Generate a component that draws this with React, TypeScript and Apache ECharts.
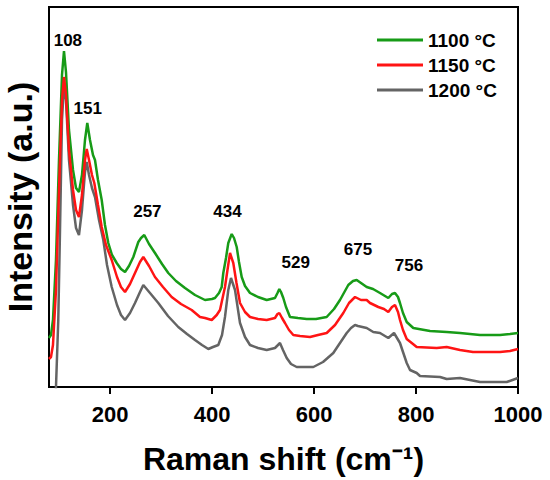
import React, { useEffect, useRef } from "react";
import * as echarts from "echarts";

const FONT = "'Liberation Sans', Arial, Helvetica, sans-serif";

const seriesNames = ["1100 °C", "1150 °C", "1200 °C"];
const seriesColors = ["#179b17", "#ff1414", "#646464"];
const xTicks = [200, 400, 600, 800, 1000];

// Raman shift (cm-1), intensity (a.u.)
const s1100: [number, number][] = [
  [80, 49], [83.9, 52], [87.8, 67], [93.7, 127], [99.6, 227], [105.5, 312], [109.4, 336],
  [113.3, 315], [119.2, 257], [127.1, 217], [133.0, 199], [138.8, 195], [144.7, 212],
  [150.6, 247], [155.1, 264], [160.4, 247], [166.3, 232], [170.2, 227], [176.1, 207],
  [183.4, 187], [189.8, 162], [196.3, 144], [203.6, 132], [212.8, 124], [221.2, 118],
  [229.1, 115], [236.9, 121], [245.4, 130], [255.2, 145], [260.5, 149], [266.9, 152],
  [276.2, 143], [287.9, 134], [301.7, 123], [314.0, 114], [329.1, 106], [346.8, 99],
  [366.4, 92], [386.0, 87], [399.7, 88], [405.6, 89], [413.5, 94], [418.8, 100],
  [421.9, 114], [427.2, 129], [431.7, 144], [438.4, 153], [442.9, 149], [448.2, 140],
  [452.7, 125], [458.0, 110], [464.5, 101], [474.3, 94], [490.0, 90], [507.0, 87],
  [523.3, 89], [528.2, 94], [531.8, 98], [535.1, 95], [539.6, 89], [544.9, 80],
  [552.8, 70], [568.4, 69], [585.5, 68], [603.7, 68], [624.7, 70], [639.1, 78],
  [650.8, 87], [667.1, 102], [676.3, 106], [683.6, 107], [692.0, 104], [703.2, 100],
  [715.6, 98], [729.3, 94], [739.1, 91], [745.6, 89], [752.8, 93], [758.7, 94],
  [764.6, 90], [768.5, 84], [774.4, 74], [781.7, 65], [794.6, 59], [827.4, 56],
  [860.1, 55], [886.2, 54], [925.5, 52], [964.7, 52], [984.3, 53], [1000, 54],
];

const s1150: [number, number][] = [
  [80, 28], [83.9, 30], [87.8, 42], [93.7, 97], [99.6, 197], [105.5, 287], [109.4, 310],
  [113.3, 292], [119.2, 237], [127.1, 197], [133.0, 177], [138.8, 170], [144.7, 192],
  [150.6, 227], [154.0, 238], [158.5, 227], [164.3, 212], [168.9, 204], [176.1, 182],
  [183.4, 160], [191.8, 142], [203.0, 127], [213.4, 110], [221.2, 100], [229.1, 95],
  [238.9, 103], [248.7, 114], [258.5, 125], [265.0, 130], [276.2, 121], [287.9, 110],
  [303.6, 100], [320.6, 90], [338.9, 83], [359.9, 77], [376.2, 70], [386.0, 69],
  [399.2, 67], [409.0, 72], [415.4, 77], [425.2, 100], [430.1, 117], [435.1, 134],
  [441.5, 124], [447.8, 104], [454.7, 84], [464.5, 75], [474.3, 70], [490.0, 68],
  [507.0, 67], [523.3, 69], [528.2, 73], [531.8, 74], [537.1, 69], [542.9, 64],
  [550.8, 57], [559.2, 52], [572.4, 51], [592.0, 50], [607.7, 52], [624.7, 54],
  [641.1, 62], [657.3, 74], [668.5, 84], [680.3, 90], [692.0, 87], [703.2, 87],
  [709.7, 84], [726.0, 80], [737.1, 78], [745.6, 75], [752.8, 80], [758.7, 82],
  [764.6, 75], [768.5, 67], [774.4, 57], [781.7, 48], [794.0, 43], [801.3, 40],
  [840.5, 39], [860.1, 40], [886.2, 37], [911.7, 35], [964.7, 35], [984.3, 36], [1000, 38],
];

const s1200: [number, number][] = [
  [89.8, -43], [93.7, 0], [98.2, 67], [101.6, 157], [105.5, 267], [109.4, 302],
  [113.3, 287], [119.2, 227], [127.1, 182], [133.0, 159], [138.8, 152], [144.7, 177],
  [150.6, 215], [154.0, 225], [158.5, 212], [164.3, 199], [170.2, 190], [178.1, 167],
  [186.5, 147], [193.8, 122], [203.0, 100], [213.4, 82], [221.2, 72], [229.1, 67],
  [238.9, 74], [248.7, 84], [258.5, 95], [265.0, 102], [278.1, 94], [294.4, 84],
  [313.4, 71], [333.6, 60], [350.7, 53], [366.4, 47], [380.1, 42], [392.5, 38],
  [401.7, 40], [412.1, 42], [419.4, 52], [425.2, 70], [431.7, 97], [437.0, 109],
  [444.9, 97], [454.7, 64], [464.5, 50], [474.3, 42], [490.0, 39], [507.0, 37],
  [523.3, 39], [533.1, 44], [539.0, 37], [546.3, 29], [554.7, 23], [565.9, 20],
  [582.2, 20], [598.5, 20], [617.5, 25], [637.7, 34], [650.8, 44], [664.0, 54],
  [672.4, 59], [680.3, 62], [686.1, 61], [703.2, 59], [716.1, 55], [729.3, 54],
  [745.6, 49], [756.8, 54], [768.5, 44], [774.4, 35], [781.7, 24], [788.2, 17],
  [801.3, 14], [807.8, 11], [847.0, 10], [860.1, 8], [886.2, 9], [925.5, 5],
  [977.9, 5], [1000, 9],
];

const peakLabels = ["108", "151", "257", "434", "529", "675", "756"];
const peakLabelX = [117, 156, 273, 430, 564, 686, 786];
const peakLabelY = [347, 279, 176, 176, 125, 138, 122];

export default function App() {
  const ref = useRef<HTMLDivElement>(null);

  useEffect(() => {
    document.body.style.margin = "0";
    if (!ref.current) return;
    const chart = echarts.init(ref.current, undefined, { renderer: "svg" });

    const lineSeries = (idx: number, data: [number, number][], z: number) => ({
      type: "line",
      name: seriesNames[idx],
      data,
      showSymbol: false,
      symbol: "none",
      clip: true,
      z,
      lineStyle: { color: seriesColors[idx], width: 2.5 },
      itemStyle: { color: seriesColors[idx] },
    });

    chart.setOption({
      animation: false,
      backgroundColor: "#ffffff",
      textStyle: { fontFamily: FONT },
      grid: {
        left: 49,
        right: 32,
        top: 7,
        bottom: 93,
        outerBoundsMode: "none",
        containLabel: false,
        show: true,
        borderColor: "#000",
        borderWidth: 2,
        backgroundColor: "transparent",
      },
      legend: {
        data: seriesNames,
        orient: "vertical",
        left: 372,
        top: 25,
        icon: "rect",
        itemWidth: 46,
        itemHeight: 3,
        itemGap: 5,
        textStyle: {
          fontFamily: FONT,
          fontSize: 19,
          fontWeight: "bold",
          color: "#000",
          lineHeight: 20,
        },
      },
      xAxis: {
        type: "value",
        min: 80,
        max: 1000,
        name: "Raman shift (cm⁻¹)",
        nameLocation: "middle",
        nameGap: 56,
        nameTextStyle: { fontFamily: FONT, fontSize: 32, fontWeight: "bold", color: "#000" },
        axisLine: { show: true, lineStyle: { color: "#000", width: 2 } },
        axisTick: { show: true, customValues: xTicks, length: 7, lineStyle: { color: "#000", width: 2 } },
        axisLabel: {
          customValues: xTicks,
          formatter: (v: number) => String(v),
          fontFamily: FONT,
          fontSize: 22,
          fontWeight: "bold",
          color: "#000",
          margin: 16,
        },
        splitLine: { show: false },
      },
      yAxis: {
        type: "value",
        min: 0,
        max: 380,
        name: "Intensity (a.u.)",
        nameLocation: "middle",
        nameRotate: 90,
        nameGap: 12,
        nameTextStyle: { fontFamily: FONT, fontSize: 34, fontWeight: "bold", color: "#000", lineHeight: 34 },
        axisLine: { show: true, lineStyle: { color: "#000", width: 2 } },
        axisTick: { show: false },
        axisLabel: { show: false },
        splitLine: { show: false },
      },
      series: [
        lineSeries(0, s1100, 2),
        lineSeries(2, s1200, 3),
        lineSeries(1, s1150, 4),
        {
          type: "scatter",
          name: "peaks",
          silent: true,
          symbolSize: 0,
          z: 5,
          itemStyle: { opacity: 1 },
          data: peakLabels.map((t, i) => [peakLabelX[i], peakLabelY[i], t]),
          label: {
            show: true,
            position: "inside",
            formatter: (p: any) => p.data[2],
            fontFamily: FONT,
            fontSize: 17,
            fontWeight: "bold",
            color: "#000",
            opacity: 1,
            textBorderWidth: 0,
          },
        },
      ],
    });

    return () => chart.dispose();
  }, []);

  return <div ref={ref} style={{ width: 550, height: 480 }} />;
}
